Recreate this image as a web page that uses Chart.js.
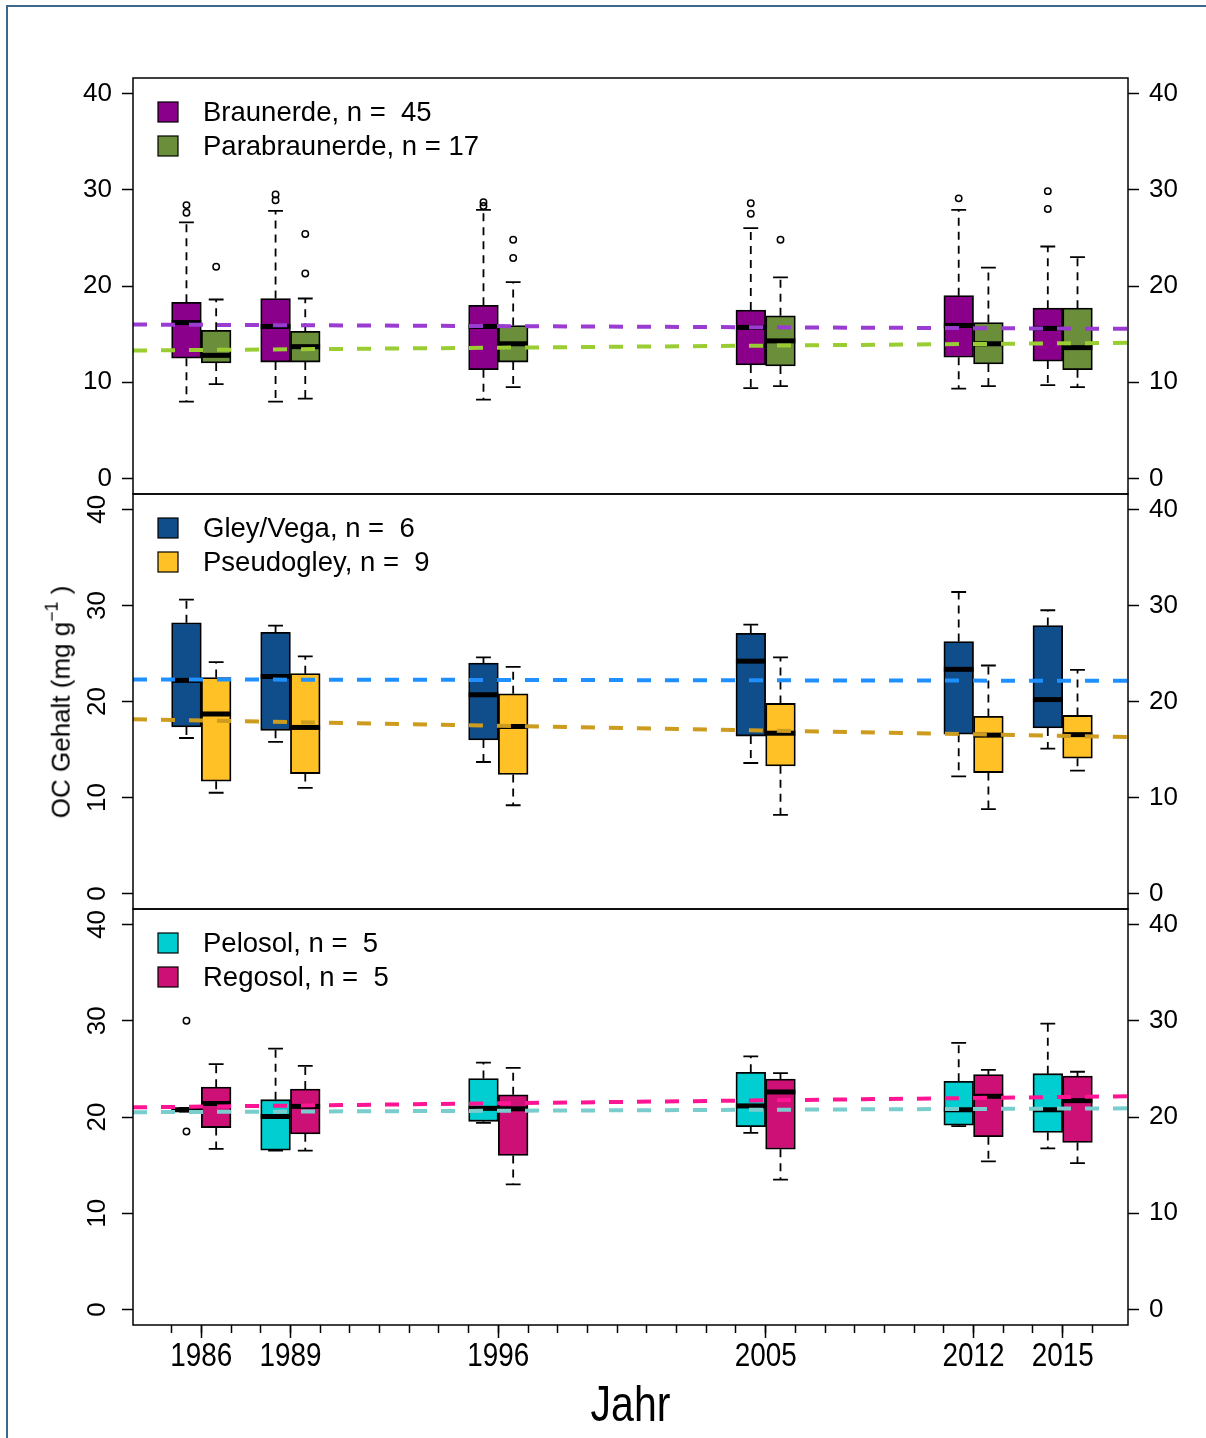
<!DOCTYPE html>
<html>
<head>
<meta charset="utf-8">
<script src="https://cdn.jsdelivr.net/npm/chart.js@4.4.1/dist/chart.umd.min.js"></script>
<style>
  html, body { margin: 0; padding: 0; background: #fff; }
  #page { position: relative; width: 1206px; height: 1438px; overflow: hidden; background: #fff; }
  #page canvas { position: absolute; left: 0; top: 0; }
  #frame { position: absolute; left: 6px; top: 5px; width: 1230px; height: 1480px;
           border: 2px solid #3e6888; box-sizing: border-box; }
  #ytitle { position: absolute; left: 60px; top: 702px; white-space: nowrap;
            font: 26px 'Liberation Sans', Arial, sans-serif; color: #000;
            transform: translate(-50%, -50%) rotate(-90deg); }
  #ytitle sup { font-size: 0.68em; position: relative; top: -0.1em; }
</style>
</head>
<body>
<div id="page">
  <div id="frame"></div>
  <canvas id="c1" width="1206" height="1438"></canvas>
  <canvas id="c2" width="1206" height="1438"></canvas>
  <canvas id="c3" width="1206" height="1438"></canvas>
  <div id="ytitle">OC Gehalt (mg g<sup>&minus;1</sup> )</div>
</div>
<script>

// survey years and axis ticks
var years = [ 1986, 1989, 1996, 2005, 2012, 2015 ];
var allYears = [ 1985, 1986, 1987, 1988, 1989, 1990, 1991, 1992, 1993, 1994, 1995, 1996,
  1997, 1998, 1999, 2000, 2001, 2002, 2003, 2004, 2005, 2006, 2007, 2008, 2009, 2010,
  2011, 2012, 2013, 2014, 2015, 2016 ];
var yTicks = [ 0, 10, 20, 30, 40 ];
var xMin = 1983.7, xMax = 2017.2;
var yMin = -1.6, yMax = 41.6;
var xTitle = 'Jahr';

// box stats per year: [lower whisker, Q1, median, Q3, upper whisker]
var braunerde = [
  [ 8.0, 12.5, 16.2, 18.3, 26.6 ],
  [ 8.0, 12.1, 15.8, 18.7, 27.8 ],
  [ 8.2, 11.3, 15.8, 18.0, 27.9 ],
  [ 9.4, 11.8, 15.7, 17.5, 26.0 ],
  [ 9.35, 12.6, 15.9, 19.0, 27.9 ],
  [ 9.7, 12.2, 15.6, 17.7, 24.1 ]
];
var braunerdeOut = [ [ 1986, 28.4 ], [ 1986, 27.6 ], [ 1989, 29.5 ], [ 1989, 28.9 ],
  [ 1996, 28.7 ], [ 1996, 28.3 ], [ 2005, 28.6 ], [ 2005, 27.5 ], [ 2012, 29.1 ],
  [ 2015, 29.85 ], [ 2015, 28.0 ] ];
var braunerdeTrend = [ 16.0, 15.55 ];

var parabraunerde = [
  [ 9.8, 12.0, 12.8, 15.4, 18.6 ],
  [ 8.3, 12.1, 13.7, 15.3, 18.7 ],
  [ 9.5, 12.1, 14.0, 15.9, 20.4 ],
  [ 9.6, 11.7, 14.3, 16.9, 20.9 ],
  [ 9.6, 11.9, 14.0, 16.2, 21.9 ],
  [ 9.5, 11.3, 13.6, 17.7, 23.0 ]
];
var parabraunerdeOut = [ [ 1986, 22.0 ], [ 1989, 25.4 ], [ 1989, 21.3 ], [ 1996, 24.8 ],
  [ 1996, 22.9 ], [ 2005, 24.8 ] ];
var parabraunerdeTrend = [ 13.3, 14.1 ];

var gley = [
  [ 16.2, 17.35, 22.2, 28.2, 30.6 ],
  [ 15.8, 17.0, 22.6, 27.2, 27.9 ],
  [ 13.7, 16.0, 20.7, 24.0, 24.6 ],
  [ 13.6, 16.4, 24.2, 27.1, 28.0 ],
  [ 12.2, 16.6, 23.35, 26.25, 31.4 ],
  [ 15.1, 17.25, 20.2, 27.9, 29.5 ]
];
var gleyOut = [];
var gleyTrend = [ 22.3, 22.15 ];

var pseudogley = [
  [ 10.5, 11.7, 18.7, 22.5, 24.1 ],
  [ 11.0, 12.5, 17.3, 22.9, 24.7 ],
  [ 9.2, 12.4, 17.4, 20.8, 23.6 ],
  [ 8.2, 13.3, 16.7, 19.8, 24.6 ],
  [ 8.8, 12.6, 16.5, 18.45, 23.75 ],
  [ 12.8, 14.1, 16.55, 18.55, 23.3 ]
];
var pseudogleyOut = [];
var pseudogleyTrend = [ 18.15, 16.3 ];

var pelosol = [
  [ 20.55, 20.55, 20.75, 20.95, 20.95 ],
  [ 16.5, 16.55, 20.05, 21.8, 27.1 ],
  [ 19.4, 19.55, 20.9, 24.0, 25.65 ],
  [ 18.35, 19.0, 21.15, 24.65, 26.3 ],
  [ 19.05, 19.15, 20.75, 23.7, 27.7 ],
  [ 16.75, 18.4, 20.75, 24.5, 29.7 ]
];
var pelosolOut = [ [ 1986, 30.0 ], [ 1986, 18.5 ] ];
var pelosolTrend = [ 20.5, 20.9 ];

var regosol = [
  [ 16.7, 18.9, 21.4, 23.1, 25.5 ],
  [ 16.5, 18.25, 21.1, 22.9, 25.3 ],
  [ 13.0, 16.0, 20.85, 22.3, 25.1 ],
  [ 13.5, 16.65, 22.6, 23.95, 24.55 ],
  [ 15.4, 17.95, 22.15, 24.4, 24.9 ],
  [ 15.2, 17.35, 21.7, 24.25, 24.7 ]
];
var regosolOut = [];
var regosolTrend = [ 21.0, 22.15 ];

var FONT = "'Liberation Sans', Arial, sans-serif";

Chart.defaults.font.family = FONT;
Chart.defaults.color = '#000';

// ---

var boxPlugin = {
  id: 'boxPlugin',

  // whiskers and staples, under the boxes
  beforeDatasetsDraw: function( chart ) {
    var ctx = chart.ctx;
    var ys = chart.scales.y;
    ctx.save();
    chart.data.datasets.forEach( function( ds, di ) {
      if ( !ds.boxStats ) return;
      chart.getDatasetMeta( di ).data.forEach( function( bar, i ) {
        var st = ds.boxStats[ i ];
        var x = bar.x, w = bar.width;
        var lo = ys.getPixelForValue( st[ 0 ] );
        var q1 = ys.getPixelForValue( st[ 1 ] );
        var q3 = ys.getPixelForValue( st[ 3 ] );
        var hi = ys.getPixelForValue( st[ 4 ] );
        ctx.strokeStyle = '#000';
        ctx.lineWidth = 1.8;
        ctx.setLineDash( [ 8, 6 ] );
        ctx.beginPath();
        ctx.moveTo( x, q3 ); ctx.lineTo( x, hi );
        ctx.moveTo( x, q1 ); ctx.lineTo( x, lo );
        ctx.stroke();
        ctx.setLineDash( [] );
        ctx.beginPath();
        ctx.moveTo( x - w / 4, hi ); ctx.lineTo( x + w / 4, hi );
        ctx.moveTo( x - w / 4, lo ); ctx.lineTo( x + w / 4, lo );
        ctx.stroke();
      } );
    } );
    ctx.restore();
  },

  // medians, on top of each box
  afterDatasetDraw: function( chart, args ) {
    var ds = chart.data.datasets[ args.index ];
    if ( !ds.boxStats ) return;
    var ctx = chart.ctx;
    var ys = chart.scales.y;
    ctx.save();
    ctx.strokeStyle = '#000';
    ctx.lineWidth = 5;
    args.meta.data.forEach( function( bar, i ) {
      var m = ys.getPixelForValue( ds.boxStats[ i ][ 2 ] );
      ctx.beginPath();
      ctx.moveTo( bar.x - bar.width / 2, m );
      ctx.lineTo( bar.x + bar.width / 2, m );
      ctx.stroke();
    } );
    ctx.restore();
  },

  // panel frame, legend and the condensed year labels
  afterDraw: function( chart, args, opts ) {
    var ctx = chart.ctx;
    var a = chart.chartArea;
    ctx.save();
    ctx.strokeStyle = '#000';
    ctx.lineWidth = 1.5;
    ctx.strokeRect( a.left, a.top, a.width, a.height );

    ctx.font = '27.5px ' + FONT;
    ctx.textBaseline = 'middle';
    ctx.textAlign = 'left';
    ( opts.items || [] ).forEach( function( it, k ) {
      var cy = a.top + 34 + k * 34;
      ctx.fillStyle = it.color;
      ctx.fillRect( a.left + 25, cy - 10, 20, 20 );
      ctx.lineWidth = 1.2;
      ctx.strokeRect( a.left + 25, cy - 10, 20, 20 );
      ctx.fillStyle = '#000';
      ctx.fillText( it.label, a.left + 70, cy + 1 );
    } );

    if ( opts.yearLabels ) {
      var xs = chart.scales.x;
      ctx.fillStyle = '#000';
      ctx.textAlign = 'center';
      ctx.textBaseline = 'middle';
      years.forEach( function( yr ) {
        ctx.save();
        ctx.translate( xs.getPixelForValue( yr ), a.bottom + 32 );
        ctx.scale( 0.82, 1 );
        ctx.font = '34px ' + FONT;
        ctx.fillText( String( yr ), 0, 0 );
        ctx.restore();
      } );
      ctx.save();
      ctx.translate( ( a.left + a.right ) / 2, a.bottom + 82 );
      ctx.scale( 0.82, 1 );
      ctx.font = '50px ' + FONT;
      ctx.fillText( xTitle, 0, 0 );
      ctx.restore();
    }
    ctx.restore();
  }
};

var boxDataset = function( s ) {
  return {
    type: 'bar',
    label: s.label,
    data: years.map( function( yr, i ) {
      return { x: yr + s.offset, y: [ s.stats[ i ][ 1 ], s.stats[ i ][ 3 ] ] };
    } ),
    boxStats: s.stats,
    backgroundColor: s.fill,
    borderColor: '#000',
    borderWidth: 1.8,
    borderSkipped: false,
    grouped: false,
    barPercentage: 1,
    categoryPercentage: 1,
    order: 3
  };
};

var outlierDataset = function( s ) {
  return {
    type: 'scatter',
    data: s.outliers.map( function( o ) { return { x: o[ 0 ] + s.offset, y: o[ 1 ] }; } ),
    pointRadius: 3.2,
    pointBorderWidth: 1.5,
    pointBorderColor: '#000',
    pointBackgroundColor: 'rgba(0,0,0,0)',
    order: 2
  };
};

var trendDataset = function( s ) {
  return {
    type: 'line',
    data: [ { x: xMin, y: s.trend[ 0 ] }, { x: xMax, y: s.trend[ 1 ] } ],
    borderColor: s.line,
    borderWidth: 4,
    borderDash: [ 14, 14 ],
    pointRadius: 0,
    fill: false,
    order: 1
  };
};

var makePanel = function( id, series, top, bottom, rotated, showX ) {

  var datasets = [];
  series.forEach( function( s ) { datasets.push( boxDataset( s ) ); } );
  series.forEach( function( s ) { datasets.push( outlierDataset( s ) ); } );
  series.forEach( function( s ) { datasets.push( trendDataset( s ) ); } );

  var yTickOpts = {
    font: { size: 26 },
    color: '#000',
    padding: 10,
    autoSkip: false,
    callback: function( v ) { return String( v ); }
  };
  var leftTicks = Object.assign( {}, yTickOpts, rotated ? { minRotation: 90, maxRotation: 90, crossAlign: 'center' } : {} );

  var tickGrid = function( len ) {
    return { drawOnChartArea: false, drawTicks: true, offset: false, tickLength: len, tickWidth: 1.5, tickColor: '#000' };
  };

  return new Chart( document.getElementById( id ), {
    type: 'bar',
    data: { datasets: datasets },
    plugins: [ boxPlugin ],
    options: {
      responsive: false,
      animation: false,
      layout: { padding: { top: top, bottom: showX ? 0 : 1438 - bottom, left: 0, right: 0 } },
      plugins: {
        legend: { display: false },
        tooltip: { enabled: false },
        boxPlugin: {
          items: series.map( function( s ) { return { label: s.legend, color: s.fill }; } ),
          yearLabels: showX
        }
      },
      scales: {
        x: {
          type: 'linear', min: xMin, max: xMax, offset: false, display: showX,
          afterBuildTicks: function( sc ) { sc.ticks = allYears.map( function( v ) { return { value: v }; } ); },
          ticks: { display: false },
          grid: tickGrid( 8 ),
          border: { display: false },
          afterFit: function( sc ) { sc.height = 0; }
        },
        x2: {
          type: 'linear', position: 'bottom', min: xMin, max: xMax, offset: false, display: showX,
          afterBuildTicks: function( sc ) { sc.ticks = years.map( function( v ) { return { value: v }; } ); },
          ticks: { display: false },
          grid: tickGrid( 13 ),
          border: { display: false },
          afterFit: function( sc ) { sc.height = showX ? 1438 - bottom : 0; }
        },
        y: {
          position: 'left', min: yMin, max: yMax,
          afterBuildTicks: function( sc ) { sc.ticks = yTicks.map( function( v ) { return { value: v }; } ); },
          ticks: leftTicks,
          grid: tickGrid( 11 ),
          border: { display: false },
          afterFit: function( sc ) { sc.width = 133; }
        },
        y2: {
          position: 'right', min: yMin, max: yMax,
          afterBuildTicks: function( sc ) { sc.ticks = yTicks.map( function( v ) { return { value: v }; } ); },
          ticks: yTickOpts,
          grid: tickGrid( 11 ),
          border: { display: false },
          afterFit: function( sc ) { sc.width = 1206 - 1128; }
        }
      }
    }
  } );

};

makePanel( 'c1', [
  { legend: 'Braunerde, n =  45', stats: braunerde, outliers: braunerdeOut, trend: braunerdeTrend,
    fill: '#8b008b', line: '#9a3bd2', offset: -0.5 },
  { legend: 'Parabraunerde, n = 17', stats: parabraunerde, outliers: parabraunerdeOut, trend: parabraunerdeTrend,
    fill: '#6b8e3a', line: '#9acd32', offset: 0.5 }
], 78, 494, false, false );

makePanel( 'c2', [
  { legend: 'Gley/Vega, n =  6', stats: gley, outliers: gleyOut, trend: gleyTrend,
    fill: '#104e8b', line: '#1e90ff', offset: -0.5 },
  { legend: 'Pseudogley, n =  9', stats: pseudogley, outliers: pseudogleyOut, trend: pseudogleyTrend,
    fill: '#ffc125', line: '#cd9b1d', offset: 0.5 }
], 494, 909, true, false );

makePanel( 'c3', [
  { legend: 'Pelosol, n =  5', stats: pelosol, outliers: pelosolOut, trend: pelosolTrend,
    fill: '#00ced1', line: '#79cdcd', offset: -0.5 },
  { legend: 'Regosol, n =  5', stats: regosol, outliers: regosolOut, trend: regosolTrend,
    fill: '#cd1076', line: '#ff1493', offset: 0.5 }
], 909, 1325, true, true );

</script>
</body>
</html>
